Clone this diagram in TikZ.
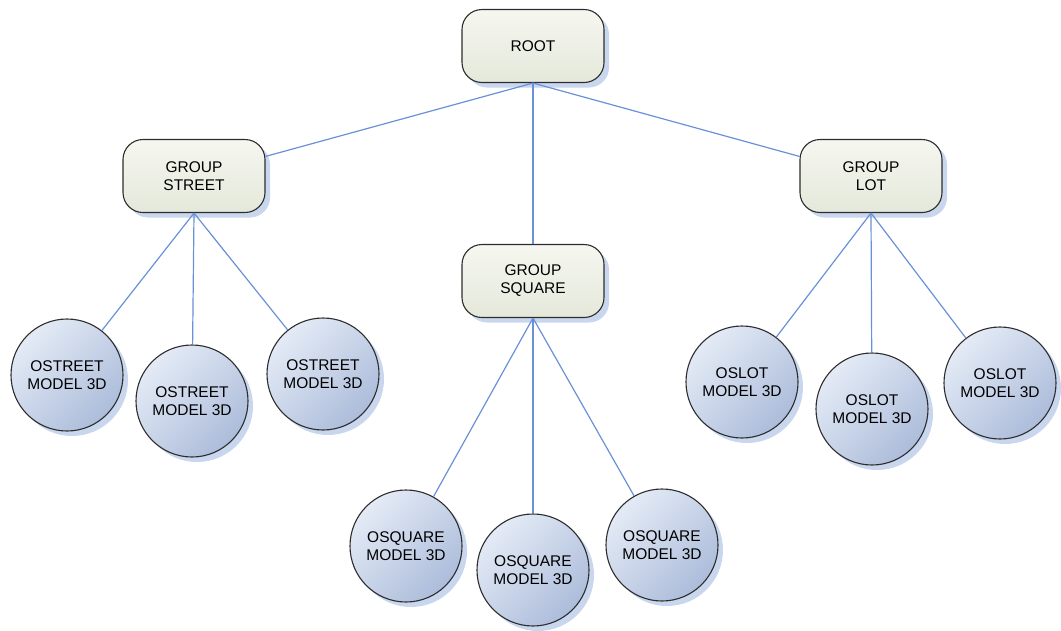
\documentclass[tikz,border=0pt]{standalone}
\usepackage{fontspec}
\setmainfont{Liberation Sans}
\usetikzlibrary{shadows}
\definecolor{edgeblue}{RGB}{105,145,215}
\definecolor{boxlight}{RGB}{246,247,240}
\definecolor{boxdark}{RGB}{228,232,218}
\definecolor{balllight}{RGB}{228,235,246}
\definecolor{balldark}{RGB}{172,188,218}
\definecolor{shadowblue}{RGB}{200,214,238}
\definecolor{outline}{RGB}{45,45,45}
\tikzset{
  groupbox/.style={draw=outline, line width=1.1pt, rounded corners=20pt,
    minimum width=142pt, minimum height=73pt, align=center,
    top color=boxlight, bottom color=boxdark,
    drop shadow={shadow xshift=5pt, shadow yshift=-5pt, fill=shadowblue, opacity=1},
    font=\fontsize{15.5}{18}\selectfont},
  modelball/.style={circle, draw=outline, line width=1.1pt,
    minimum size=112pt, inner sep=0pt, align=center,
    left color=balllight, right color=balldark, shading angle=45,
    drop shadow={shadow xshift=5pt, shadow yshift=-5pt, fill=shadowblue, opacity=1},
    font=\fontsize{15.5}{18}\selectfont},
  link/.style={draw=edgeblue, line width=1.2pt}
}
\begin{document}
\begin{tikzpicture}[x=1pt, y=-1pt]
  \useasboundingbox (0,0) rectangle (1061,630);
  % hierarchy boxes
  \node[groupbox] (root)   at (533,46)  {ROOT};
  \node[groupbox] (street) at (194,176) {GROUP\\STREET};
  \node[groupbox] (square) at (533,281) {GROUP\\SQUARE};
  \node[groupbox] (lot)    at (871,176) {GROUP\\LOT};
  % leaf models
  \node[modelball] (st1) at (67,375)  {OSTREET\\MODEL 3D};
  \node[modelball] (st2) at (192,401) {OSTREET\\MODEL 3D};
  \node[modelball] (st3) at (323,374) {OSTREET\\MODEL 3D};
  \node[modelball] (sq1) at (406,546) {OSQUARE\\MODEL 3D};
  \node[modelball] (sq2) at (533,570) {OSQUARE\\MODEL 3D};
  \node[modelball] (sq3) at (662,545) {OSQUARE\\MODEL 3D};
  \node[modelball] (lt1) at (742,382) {OSLOT\\MODEL 3D};
  \node[modelball] (lt2) at (872,409) {OSLOT\\MODEL 3D};
  \node[modelball] (lt3) at (1000,383) {OSLOT\\MODEL 3D};
  % connectors
  \draw[link] (root.south) -- (street);
  \draw[link] (root.south) -- (square);
  \draw[link] (root.south) -- (lot);
  \foreach \c in {st1,st2,st3} \draw[link] (street.south) -- (\c);
  \foreach \c in {sq1,sq2,sq3} \draw[link] (square.south) -- (\c);
  \foreach \c in {lt1,lt2,lt3} \draw[link] (lot.south) -- (\c);
\end{tikzpicture}
\end{document}
